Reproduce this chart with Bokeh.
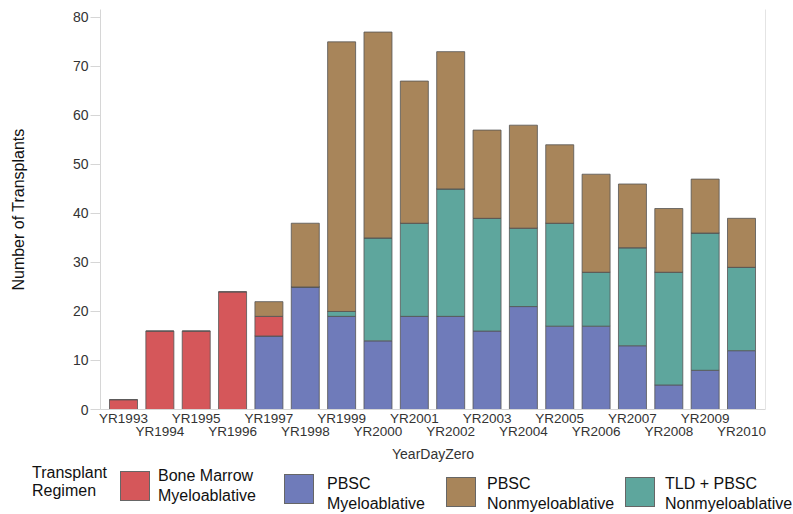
from bokeh.plotting import figure
from bokeh.models import ColumnDataSource, Range1d, LinearAxis, FixedTicker, Div
from bokeh.layouts import column
from bokeh.embed import file_html
from bokeh.resources import INLINE

years = list(range(1993, 2011))
year_labels = [f"YR{y}" for y in years]
bone_marrow_mye = [2, 16, 16, 24, 4, 0, 0, 0, 0, 0, 0, 0, 0, 0, 0, 0, 0, 0]
pbsc_mye = [0, 0, 0, 0, 15, 25, 19, 14, 19, 19, 16, 21, 17, 17, 13, 5, 8, 12]
tld_pbsc_non = [0, 0, 0, 0, 0, 0, 1, 21, 19, 26, 23, 16, 21, 11, 20, 23, 28, 17]
pbsc_non = [0, 0, 0, 0, 3, 13, 55, 42, 29, 28, 18, 21, 16, 20, 13, 13, 11, 10]

legend_title = ["Transplant", "Regimen"]
legend_keys = ["bm", "pm", "pn", "tld"]
legend_lines = {"bm": ["Bone Marrow", "Myeloablative"], "pm": ["PBSC", "Myeloablative"],
                "pn": ["PBSC", "Nonmyeloablative"], "tld": ["TLD + PBSC", "Nonmyeloablative"]}
colors = {"bm": "#D5575A", "pm": "#6F7BBA", "pn": "#A8855A", "tld": "#5EA69D"}

FONT = "Liberation Sans"
GRAY = "#d6d6d6"
TXT = "#333333"

MAIN_H = 465
src = ColumnDataSource(dict(x=years, pm=pbsc_mye, tld=tld_pbsc_non,
                            bm=bone_marrow_mye, pn=pbsc_non))

p = figure(width=793, height=MAIN_H, output_backend="svg", toolbar_location=None,
           x_range=Range1d(1992.367, 2010.66), y_range=Range1d(0, 81.6),
           x_axis_location=None, min_border_left=100, min_border_right=28,
           min_border_top=9, min_border_bottom=MAIN_H - 409)
p.outline_line_color = None
p.xgrid.visible = False
p.ygrid.visible = False

keys = ["pm", "tld", "bm", "pn"]
p.vbar_stack(keys, x="x", width=0.77, source=src,
             color=[colors[k] for k in keys],
             line_color="#555555", line_width=1, line_alpha=0.8)

# y axis
ya = p.yaxis[0]
ya.ticker = FixedTicker(ticks=list(range(0, 81, 10)))
ya.minor_tick_line_color = None
ya.major_tick_out = 10
ya.major_tick_in = 0
ya.major_tick_line_color = GRAY
ya.axis_line_color = GRAY
ya.major_label_standoff = 2
ya.major_label_text_font = FONT
ya.major_label_text_font_size = "14px"
ya.major_label_text_color = TXT
ya.axis_label = "Number of Transplants"
ya.axis_label_text_font = FONT
ya.axis_label_text_font_size = "16px"
ya.axis_label_text_font_style = "normal"
ya.axis_label_text_color = "#111111"
ya.axis_label_standoff = 43

# right border
ra = LinearAxis(ticker=FixedTicker(ticks=[]), axis_line_color="#e4e4e4",
                major_tick_line_color=None, minor_tick_line_color=None,
                major_label_text_font_size="0px")
p.add_layout(ra, "right")

odd_years = years[0::2]
even_years = years[1::2]
label_map = dict(zip(years, year_labels))

xa1 = LinearAxis(ticker=FixedTicker(ticks=odd_years),
                 major_label_overrides={y: label_map[y] for y in odd_years})
xa2 = LinearAxis(ticker=FixedTicker(ticks=even_years),
                 major_label_overrides={y: label_map[y] for y in even_years})
for ax in (xa1, xa2):
    ax.major_tick_line_color = None
    ax.minor_tick_line_color = None
    ax.major_tick_out = 0
    ax.major_tick_in = 0
    ax.major_label_text_font = FONT
    ax.major_label_text_font_size = "13.5px"
    ax.major_label_text_color = TXT
xa1.axis_line_color = GRAY
xa1.major_label_standoff = 1
xa2.axis_line_color = None
xa2.major_label_standoff = -5
xa2.axis_label = "YearDayZero"
xa2.axis_label_text_font = FONT
xa2.axis_label_text_font_size = "14px"
xa2.axis_label_text_font_style = "normal"
xa2.axis_label_text_color = TXT
xa2.axis_label_standoff = 4
p.add_layout(xa1, "below")
p.add_layout(xa2, "below")

# ---- legend as an HTML strip below the plot (positions in px, relative to strip top)
LEG_H = 514 - MAIN_H
sw_x = [120, 284, 446, 625]
sw_y = [6, 9, 12, 12]
txt_x = [158, 327, 487, 665]
txt_y = [3, 11, 11, 11]


def span(x, y, text):
    return (f'<div style="position:absolute;left:{x}px;top:{y}px;white-space:nowrap;'
            f'line-height:16px;">{text}</div>')


parts = [span(32, 0, legend_title[0]), span(32, 18, legend_title[1])]
for i, k in enumerate(legend_keys):
    parts.append(f'<div style="position:absolute;left:{sw_x[i]}px;top:{sw_y[i]}px;'
                 f'width:30px;height:30px;box-sizing:border-box;background:{colors[k]};'
                 f'border:1.5px solid #666666;"></div>')
    parts.append(span(txt_x[i], txt_y[i], legend_lines[k][0]))
    parts.append(span(txt_x[i], txt_y[i] + 20, legend_lines[k][1]))

html = (f'<div style="position:relative;width:793px;height:{LEG_H}px;'
        f'font-family:\'{FONT}\',Arial,sans-serif;font-size:16px;color:#111111;">'
        + "".join(parts) + '</div>')
leg = Div(text=html, width=793, height=LEG_H, margin=0,
          styles={"overflow": "visible"})

layout = column(p, leg, spacing=0)
open("out.html", "w").write(file_html(layout, INLINE))
